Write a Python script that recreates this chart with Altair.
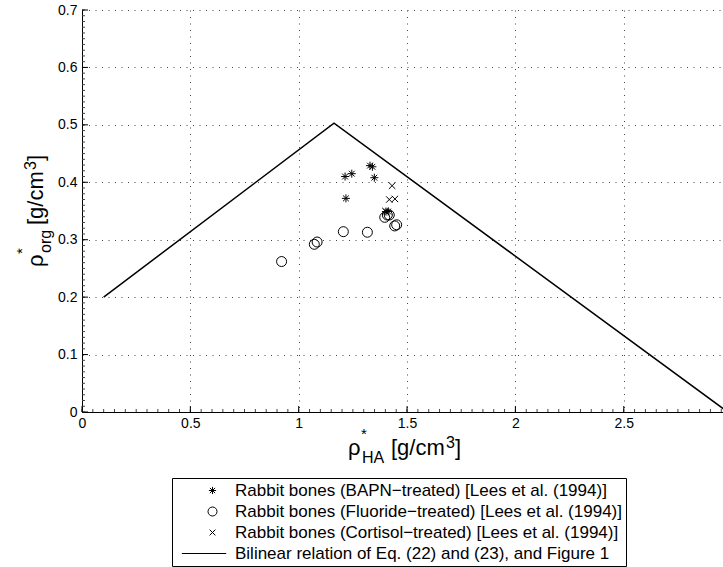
import altair as alt
import pandas as pd

# ---------------- data ----------------
series_names = [
    "Rabbit bones (BAPN\u2212treated) [Lees et al. (1994)]",
    "Rabbit bones (Fluoride\u2212treated) [Lees et al. (1994)]",
    "Rabbit bones (Cortisol\u2212treated) [Lees et al. (1994)]",
    "Bilinear relation of Eq. (22) and (23), and Figure 1",
]

bapn_x = [1.214, 1.245, 1.218, 1.329, 1.340, 1.349, 1.403, 1.413]
bapn_y = [0.410, 0.415, 0.372, 0.429, 0.427, 0.408, 0.349, 0.349]

fluoride_x = [0.921, 1.072, 1.085, 1.206, 1.317, 1.397, 1.409, 1.418, 1.443, 1.452]
fluoride_y = [0.262, 0.292, 0.296, 0.314, 0.313, 0.339, 0.343, 0.343, 0.324, 0.326]

cortisol_x = [1.431, 1.418, 1.444, 1.400]
cortisol_y = [0.394, 0.370, 0.371, 0.350]

bilinear_x = [0.1, 1.163, 2.98]
bilinear_y = [0.2, 0.503, 0.0]

x_ticks = [0, 0.5, 1, 1.5, 2, 2.5]
y_ticks = [0, 0.1, 0.2, 0.3, 0.4, 0.5, 0.6, 0.7]
x_minor = [round(i * 0.05, 2) for i in range(0, 60)]
y_minor = [round(i * 0.01, 2) for i in range(0, 71)]

# ---------------- tables ----------------
pts = pd.DataFrame({
    "x": bapn_x + fluoride_x + cortisol_x,
    "y": bapn_y + fluoride_y + cortisol_y,
    "series": [series_names[0]] * len(bapn_x)
    + [series_names[1]] * len(fluoride_x)
    + [series_names[2]] * len(cortisol_x),
})
line_df = pd.DataFrame({"x": bilinear_x, "y": bilinear_y, "i": list(range(len(bilinear_x)))})

W, H = 641, 402
FONT = "Liberation Sans"
xs = alt.Scale(domain=[0, 2.958], nice=False, zero=False)
ys = alt.Scale(domain=[0, 0.7], nice=False, zero=False)

ASTERISK = "M-1,0L1,0M0,-1L0,1M-0.72,-0.72L0.72,0.72M-0.72,0.72L0.72,-0.72"
CIRCLE = "M1.25,0A1.25,1.25,0,1,1,-1.25,0A1.25,1.25,0,1,1,1.25,0Z"
CROSS = "M-0.8,-0.8L0.8,0.8M-0.8,0.8L0.8,-0.8"
LINE = "M-8.5,0L3.8,0"

x_axis = alt.Axis(values=x_ticks, format="~g", grid=True, gridDash=[1, 5.5], gridColor="#444444",
                  gridWidth=1, domain=True, domainColor="black", domainWidth=1, ticks=False,
                  tickSize=0, labelFont=FONT, labelFontSize=14, labelColor="black",
                  labelPadding=4, labelFlush=False, labelOverlap=False, title=None)
y_axis = alt.Axis(values=y_ticks, format="~g", grid=True, gridDash=[1, 5.5], gridColor="#444444",
                  gridWidth=1, domain=True, domainColor="black", domainWidth=1, ticks=False,
                  tickSize=0, labelFont=FONT, labelFontSize=14, labelColor="black",
                  labelPadding=5, labelFlush=False, labelOverlap=False, title=None)

X = alt.X("x:Q", scale=xs, axis=x_axis)
Y = alt.Y("y:Q", scale=ys, axis=y_axis)

points = alt.Chart(pts).mark_point(filled=False, color="black", strokeWidth=1, size=64, opacity=1).encode(
    x=X,
    y=Y,
    shape=alt.Shape("series:N", scale=alt.Scale(domain=series_names,
                                                 range=[ASTERISK, CIRCLE, CROSS, LINE]),
                    legend=alt.Legend(title=None, orient="none", legendX=90, legendY=468,
                                      strokeColor="black", fillColor="white", padding=4,
                                      labelFont=FONT, labelFontSize=17, labelColor="black",
                                      labelLimit=900, symbolSize=52, symbolStrokeColor="black",
                                      symbolFillColor="transparent", symbolStrokeWidth=1,
                                      symbolOpacity=1, symbolOffset=28, labelOffset=14,
                                      rowPadding=3, cornerRadius=0)),
)

line = alt.Chart(line_df).mark_line(color="black", strokeWidth=1.5, clip=True).encode(
    x=X, y=Y, order="i:Q",
)

xt = alt.Chart(pd.DataFrame({"x": x_ticks})).mark_rule(color="black", strokeWidth=1).encode(
    x=X, y=alt.value(H), y2=alt.value(H - 6))
yt = alt.Chart(pd.DataFrame({"y": y_ticks})).mark_rule(color="black", strokeWidth=1).encode(
    y=Y, x=alt.value(0), x2=alt.value(6))
xm = alt.Chart(pd.DataFrame({"x": x_minor})).mark_rule(color="#444444", strokeWidth=1).encode(
    x=X, y=alt.value(H), y2=alt.value(H - 3))
ym = alt.Chart(pd.DataFrame({"y": y_minor})).mark_rule(color="#444444", strokeWidth=1).encode(
    y=Y, x=alt.value(0), x2=alt.value(3))

one = pd.DataFrame({"k": [0]})


def txt(s, x, y, size, angle=0):
    return alt.Chart(one).mark_text(text=s, x=x, y=y, fontSize=size, font=FONT, color="black",
                                    align="left", baseline="alphabetic", angle=angle)


# x-axis title  rho*_HA [g/cm^3]   (plot origin at screen 82,10)
x_title = [
    txt("\u03c1", 266, 445, 22),
    txt("*", 279, 429, 15),
    txt("HA", 280, 453, 16),
    txt("[g/cm", 309, 445, 22),
    txt("3", 364, 438, 16),
    txt("]", 373, 445, 22),
]
# y-axis title  rho*_org [g/cm^3]   rotated
y_title = [
    txt("\u03c1", -39, 257, 22, 270),
    txt("*", -55, 244, 15, 270),
    txt("org", -31, 243, 16, 270),
    txt("[g/cm", -39, 215, 22, 270),
    txt("3", -46, 160, 16, 270),
    txt("]", -39, 151, 22, 270),
]

chart = alt.layer(points, line, xm, ym, xt, yt, *x_title, *y_title).properties(
    width=W, height=H,
    autosize=alt.AutoSizeParams(type="none"),
    padding={"left": 82, "top": 10, "right": 0, "bottom": 155},
    background="white",
).configure_view(strokeWidth=0)

chart.save("out.html", embed_options={"renderer": "svg", "actions": False})
